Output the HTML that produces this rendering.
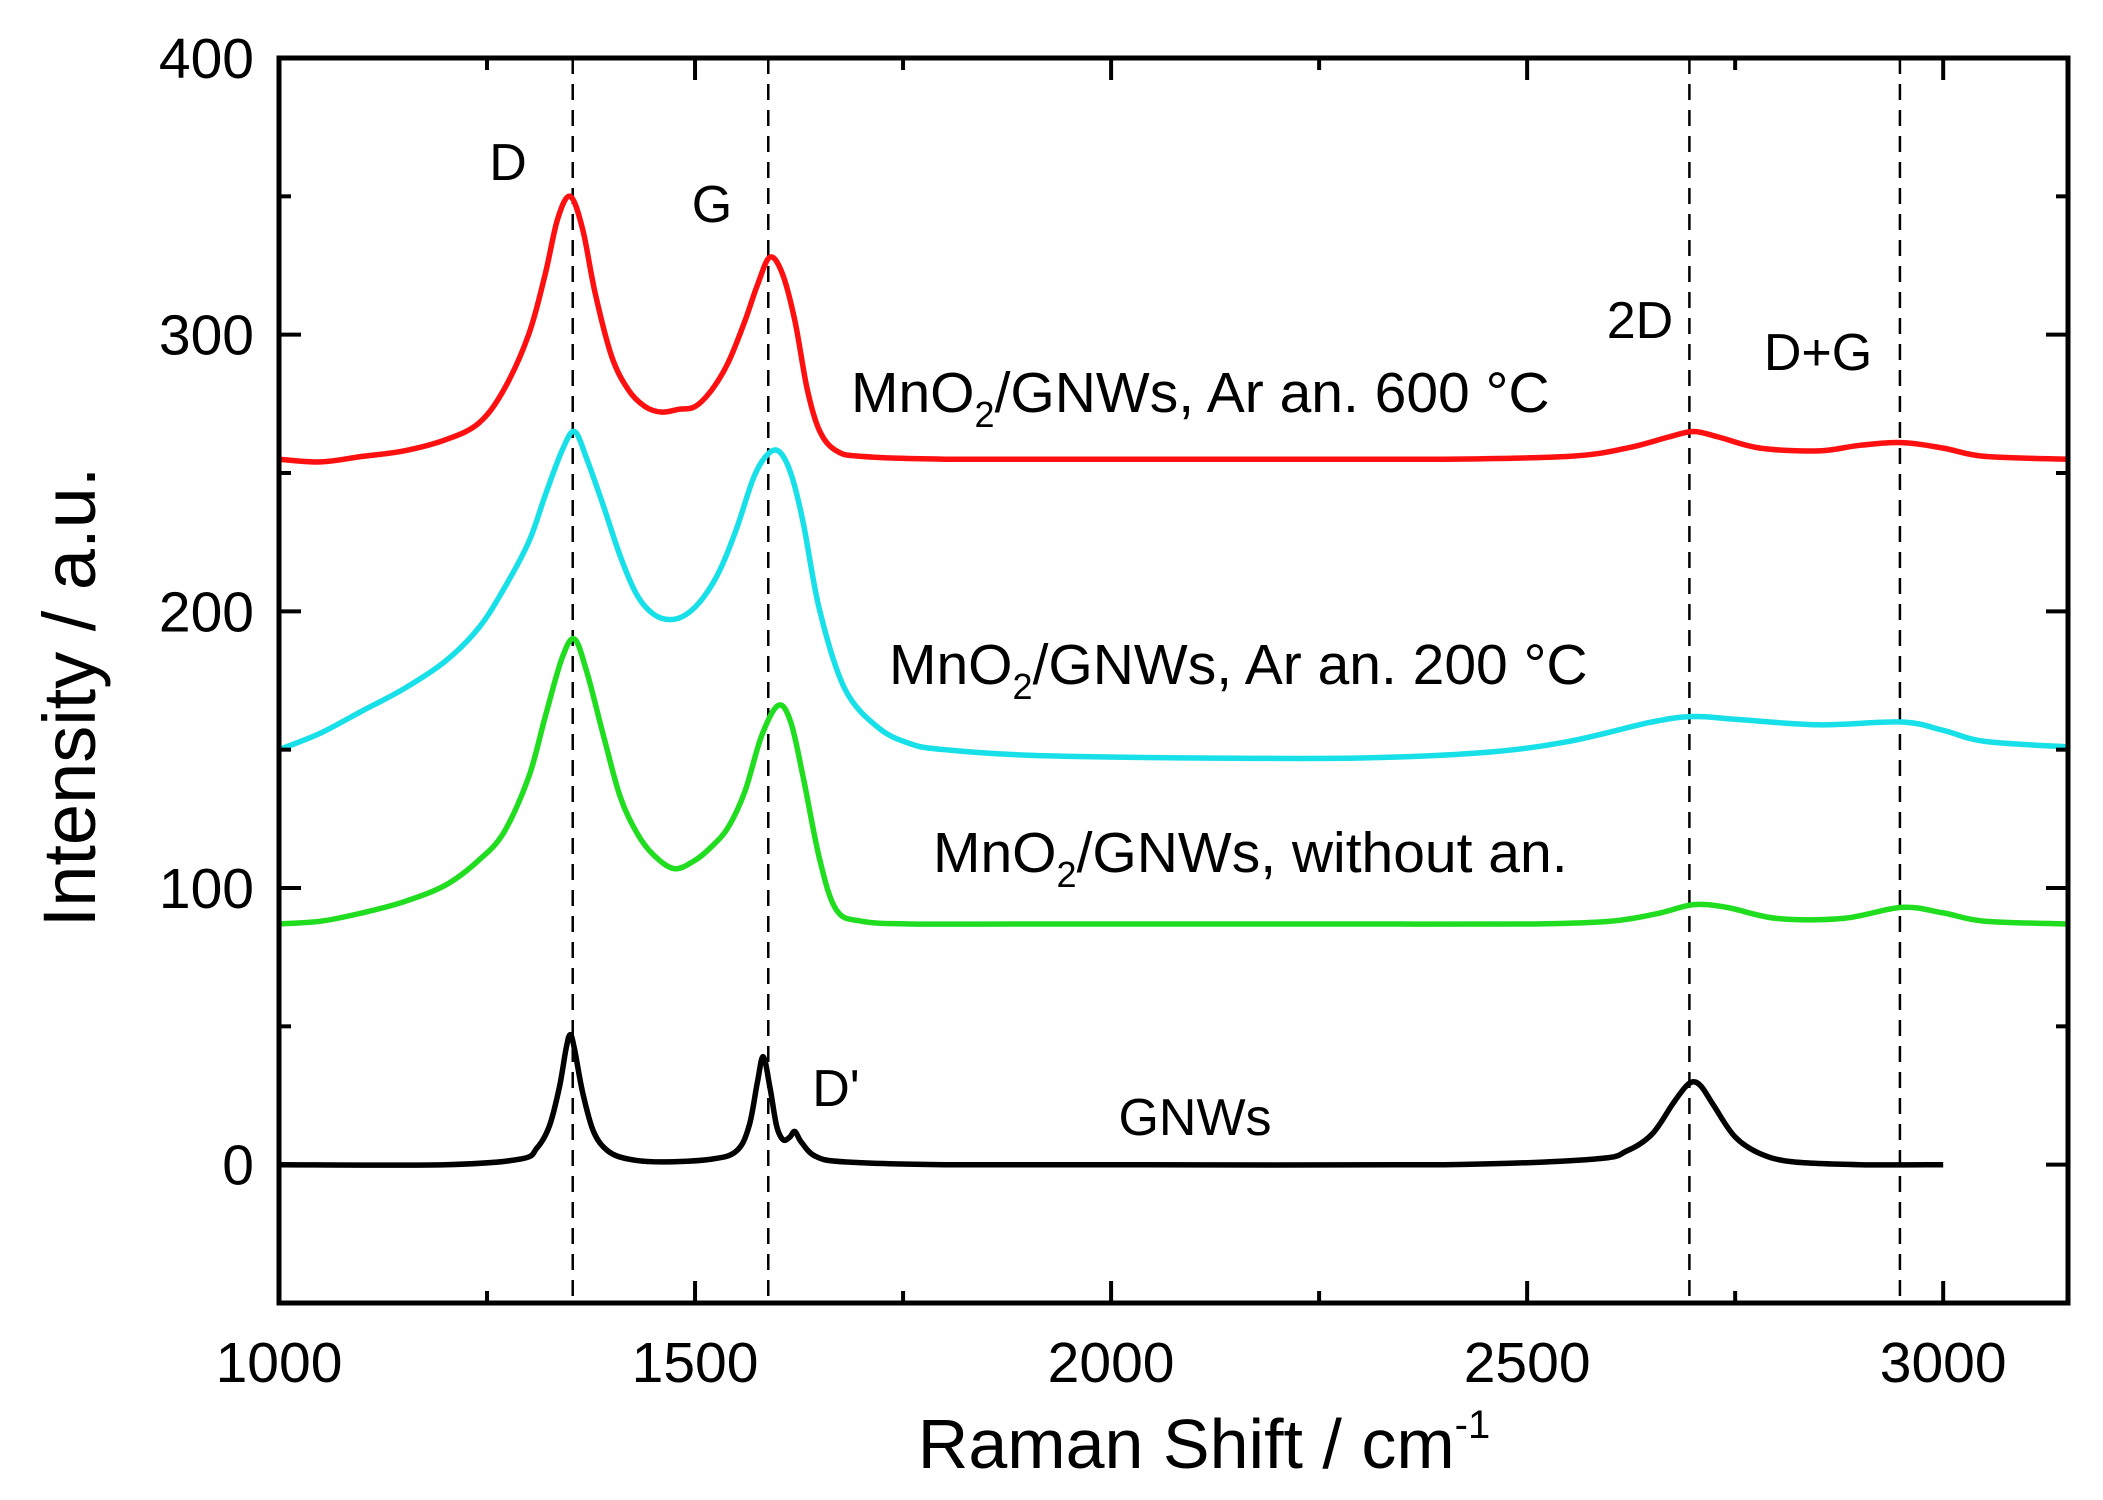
<!DOCTYPE html>
<html><head><meta charset="utf-8"><style>
html,body{margin:0;padding:0;background:#fff;}
svg{display:block;font-family:"Liberation Sans",Arial,sans-serif;}
</style></head><body>
<svg id="chart" width="2103" height="1500" viewBox="0 0 2103 1500" xmlns="http://www.w3.org/2000/svg"></svg>
<script>
const xTicks=[1000,1500,2000,2500,3000];
const yTicks=[0,100,200,300,400];
const refLines=[1353,1588,2695,2948];
const redX=[1000,1050,1100,1150,1200,1240,1270,1300,1320,1335,1350,1365,1380,1400,1420,1440,1460,1480,1500,1520,1540,1560,1575,1590,1605,1620,1635,1650,1670,1700,1800,2000,2200,2400,2550,2620,2670,2700,2730,2780,2850,2900,2950,3000,3050,3150];
const redY=[255,254,256,258,262,268,280,300,322,342,350,338,315,292,280,274,272,273,274,280,290,305,318,328,322,305,280,265,258,256,255,255,255,255,256,259,263,265,263,259,258,260,261,259,256,255];
const cyanX=[1000,1050,1100,1150,1200,1240,1270,1300,1320,1340,1355,1370,1390,1410,1430,1450,1470,1490,1510,1530,1550,1570,1585,1600,1615,1630,1650,1680,1720,1760,1800,1900,2100,2300,2450,2550,2650,2700,2750,2850,2950,3000,3050,3150];
const cyanY=[150,156,164,172,182,194,208,225,242,258,265,255,238,220,206,199,197,199,205,215,230,248,256,258,250,232,200,172,158,152,150,148,147,147,149,153,160,162,161,159,160,157,153,151];
const greenX=[1000,1050,1100,1150,1200,1240,1270,1300,1320,1340,1355,1370,1390,1410,1430,1450,1475,1500,1520,1540,1560,1580,1600,1615,1630,1650,1670,1700,1760,1900,2100,2300,2500,2600,2660,2700,2740,2800,2880,2950,3000,3050,3150];
const greenY=[87,88,91,95,101,110,120,140,162,183,190,178,155,133,120,112,107,110,115,122,135,155,166,160,140,110,92,88,87,87,87,87,87,88,91,94,93,89,89,93,91,88,87];
const blackX=[1000,1200,1290,1310,1325,1337,1345,1350,1355,1365,1378,1395,1420,1460,1520,1550,1565,1575,1582,1590,1598,1606,1614,1620,1628,1645,1680,1800,2000,2400,2580,2620,2650,2675,2690,2700,2710,2725,2750,2780,2820,2900,3000];
const blackY=[0,0,2,6,14,28,42,47,42,26,12,5,2,1,2,5,14,30,39,28,14,9,10,12,8,3,1,0,0,0,2,5,11,22,28,30,28,21,10,4,1,0,0];

const NS="http://www.w3.org/2000/svg";
const svg=document.getElementById('chart');
const L=279,R=2068,T=58,B=1303;
const xMin=1000,xMax=3150,yMin=-50,yMax=400;
function sx(v){return L+(v-xMin)/(xMax-xMin)*(R-L);}
function sy(v){return B-(v-yMin)/(yMax-yMin)*(B-T);}
function mk(tag,attrs){const e=document.createElementNS(NS,tag);for(const k in attrs)e.setAttribute(k,attrs[k]);svg.appendChild(e);return e;}
function smooth(xs,ys){
  const p=xs.map((x,i)=>[sx(x),sy(ys[i])]);
  let d='M'+p[0][0].toFixed(1)+' '+p[0][1].toFixed(1);
  for(let i=0;i<p.length-1;i++){
    const p0=p[Math.max(0,i-1)],p1=p[i],p2=p[i+1],p3=p[Math.min(p.length-1,i+2)];
    const c1=[p1[0]+(p2[0]-p0[0])/6,p1[1]+(p2[1]-p0[1])/6];
    const c2=[p2[0]-(p3[0]-p1[0])/6,p2[1]-(p3[1]-p1[1])/6];
    d+=' C'+c1[0].toFixed(1)+' '+c1[1].toFixed(1)+' '+c2[0].toFixed(1)+' '+c2[1].toFixed(1)+' '+p2[0].toFixed(1)+' '+p2[1].toFixed(1);
  }
  return d;
}
refLines.forEach(v=>{
  const l=mk('line',{x1:sx(v),x2:sx(v),y1:T,y2:B,stroke:'#000','stroke-width':2.5,'stroke-dasharray':'16 10'});
  
  
});
const series=[[redX,redY,'#ff1010','series-600c'],[cyanX,cyanY,'#18e0e8','series-200c'],[greenX,greenY,'#20dd20','series-without-anneal'],[blackX,blackY,'#000','series-gnws']];
series.forEach(s=>{
  const p=mk('path',{d:smooth(s[0],s[1]),fill:'none',stroke:s[2],'stroke-width':5.5,'stroke-linejoin':'round'});
  
  
});
const fr=mk('rect',{x:L,y:T,width:R-L,height:B-T,fill:'none',stroke:'#000','stroke-width':5});


for(let v=1000;v<=3150;v+=250){
  const major=(v%500===0);const len=major?22:12;
  [[B,-1],[T,1]].forEach(([y0,dir])=>{
    const t=mk('line',{x1:sx(v),x2:sx(v),y1:y0,y2:y0+dir*len,stroke:'#000','stroke-width':4});
    
    
  });
}
xTicks.forEach(v=>{
  const t=mk('text',{x:sx(v),y:1382,'text-anchor':'middle','font-size':57,fill:'#000'});
  t.textContent=v;
  
  
});
for(let v=-50;v<=400;v+=50){
  const major=(v%100===0);const len=major?22:12;
  [[L,1],[R,-1]].forEach(([x0,dir])=>{
    const t=mk('line',{x1:x0,x2:x0+dir*len,y1:sy(v),y2:sy(v),stroke:'#000','stroke-width':4});
    
    
  });
}
yTicks.forEach(v=>{
  const t=mk('text',{x:254,y:sy(v)+20,'text-anchor':'end','font-size':57,fill:'#000'});
  t.textContent=v;
  
  
});
</script>
<svg style="position:absolute;left:0;top:0" width="2103" height="1500" viewBox="0 0 2103 1500" xmlns="http://www.w3.org/2000/svg" font-family="Liberation Sans, Arial, sans-serif">
<text x="1204" y="1468" text-anchor="middle" font-size="70">Raman Shift / cm<tspan font-size="40" dy="-30">-1</tspan></text>
<text transform="translate(95,697) rotate(-90)" text-anchor="middle" font-size="74">Intensity / a.u.</text>
<text x="508" y="180" text-anchor="middle" font-size="52">D</text>
<text x="712" y="222" text-anchor="middle" font-size="52">G</text>
<text x="1640" y="338" text-anchor="middle" font-size="52">2D</text>
<text x="1818" y="370" text-anchor="middle" font-size="52">D+G</text>
<text x="836" y="1106" text-anchor="middle" font-size="52">D'</text>
<text x="1195" y="1135" text-anchor="middle" font-size="52">GNWs</text>
<text x="851" y="412" font-size="57">MnO<tspan font-size="36" dy="15">2</tspan><tspan dy="-15">/GNWs, Ar an. 600 °C</tspan></text>
<text x="889" y="684" font-size="57">MnO<tspan font-size="36" dy="15">2</tspan><tspan dy="-15">/GNWs, Ar an. 200 °C</tspan></text>
<text x="933" y="872" font-size="57">MnO<tspan font-size="36" dy="15">2</tspan><tspan dy="-15">/GNWs, without an.</tspan></text>
</svg>
</body></html>
